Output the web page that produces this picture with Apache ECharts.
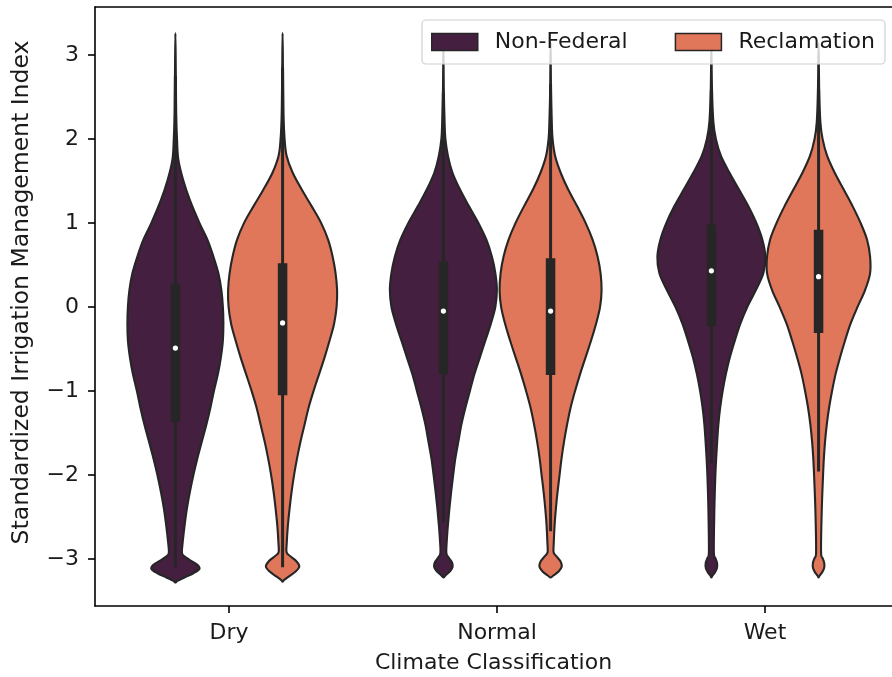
<!DOCTYPE html>
<html>
<head>
<meta charset="utf-8">
<script src="https://cdn.jsdelivr.net/npm/echarts@6/dist/echarts.min.js"></script>
<style>
html,body{margin:0;padding:0;background:#fff;}
#chart{width:892px;height:677px;}
</style>
</head>
<body>
<div id="chart"></div>
<script>
// ---- data ----
const categories = ['Dry', 'Normal', 'Wet'];
const categoryPositions = [0, 1, 2];
const seriesNames = ['Non-Federal', 'Reclamation'];
const yTicks = [-3, -2, -1, 0, 1, 2, 3];

// violin profiles: [value, relative density]
const dryNonFederal = [[3.26,0],[2.8,0.4],[2.3,0.8],[2.0,1.6],[1.75,3],[1.5,8],[1.27,14.5],[1.0,24],[0.8,32],[0.6,38],[0.4,43],[0.2,46],[0.0,47.5],[-0.2,48],[-0.4,47.5],[-0.6,45.5],[-0.8,42.5],[-1.0,38.5],[-1.2,35],[-1.4,31],[-1.6,26.5],[-1.8,22],[-2.0,18],[-2.2,14.5],[-2.4,11.5],[-2.6,9.2],[-2.8,7.3],[-2.92,6.5],[-2.96,8],[-3.01,14],[-3.07,22],[-3.12,24],[-3.17,18],[-3.22,9],[-3.26,2],[-3.28,0]];
const dryReclamation = [[3.26,0],[2.8,0.4],[2.3,0.9],[2.0,2],[1.8,4],[1.6,10],[1.4,19],[1.2,29],[1.0,38.5],[0.8,45.5],[0.6,50],[0.4,53],[0.2,54.5],[0.0,54],[-0.2,51.5],[-0.4,47],[-0.6,42],[-0.8,36.5],[-1.0,31],[-1.2,26],[-1.4,22],[-1.6,18],[-1.8,14.5],[-2.0,11.5],[-2.2,9],[-2.4,7],[-2.6,5.3],[-2.8,4.2],[-2.92,4],[-2.97,8],[-3.03,14],[-3.09,16.7],[-3.15,13],[-3.21,6],[-3.25,1.5],[-3.27,0]];
const normalNonFederal = [[3.12,0],[2.6,0.4],[2.2,1.2],[2.0,2],[1.8,4.5],[1.6,9],[1.4,16.5],[1.2,25.5],[1.0,35],[0.8,43],[0.6,48.5],[0.4,52],[0.2,53.5],[0.0,52],[-0.2,47.5],[-0.4,42],[-0.6,36.5],[-0.8,31],[-1.0,26.5],[-1.2,22],[-1.4,18],[-1.6,15],[-1.8,12],[-2.0,9.8],[-2.2,7.8],[-2.4,6],[-2.6,4.5],[-2.8,3.3],[-2.93,3],[-2.98,5],[-3.04,8.5],[-3.09,9.3],[-3.14,7],[-3.19,2.5],[-3.22,0]];
const normalReclamation = [[3.14,0],[2.6,0.4],[2.2,1.2],[2.0,2],[1.8,4.5],[1.6,10],[1.4,17.5],[1.2,26.5],[1.0,35],[0.8,42],[0.6,47],[0.4,50],[0.2,51],[0.0,49.5],[-0.2,45.5],[-0.4,40.5],[-0.6,35],[-0.8,29.5],[-1.0,24.5],[-1.2,20],[-1.4,16.5],[-1.6,13.5],[-1.8,11],[-2.0,9],[-2.2,7],[-2.4,5.3],[-2.6,4],[-2.8,3.2],[-2.92,3],[-2.97,6],[-3.03,10],[-3.09,11.2],[-3.15,8],[-3.2,2.5],[-3.22,0]];
const wetNonFederal = [[3.12,0],[2.6,0.6],[2.2,2],[2.0,4.5],[1.8,9.5],[1.6,18],[1.4,27.5],[1.2,37],[1.0,45],[0.8,51],[0.6,54],[0.4,52],[0.2,44.5],[0.0,36],[-0.2,29],[-0.4,23.5],[-0.6,18.5],[-0.8,14.5],[-1.0,11.3],[-1.2,8.8],[-1.4,7],[-1.6,5.8],[-1.8,4.8],[-2.0,4],[-2.3,3.2],[-2.6,2.7],[-2.93,2.5],[-2.99,4],[-3.05,5.7],[-3.11,5.5],[-3.16,3.5],[-3.2,1],[-3.22,0]];
const wetReclamation = [[3.14,0],[2.6,0.6],[2.2,1.8],[2.0,4],[1.8,8.5],[1.6,16],[1.4,25],[1.2,34],[1.0,42],[0.8,48.5],[0.6,51.5],[0.4,51.5],[0.2,46.5],[0.0,39],[-0.2,32],[-0.4,26.5],[-0.6,21.5],[-0.8,17],[-1.0,13.5],[-1.2,10.5],[-1.4,8.2],[-1.6,6.5],[-1.8,5.3],[-2.0,4.5],[-2.3,3.5],[-2.6,2.8],[-2.93,2.5],[-2.99,4],[-3.05,5.7],[-3.11,5.5],[-3.16,3.5],[-3.2,1],[-3.22,0]];

// box statistics per category: [whiskerLow, q1, median, q3, whiskerHigh]
const nonFederalStats = [[-3.1,-1.37,-0.49,0.28,2.75],[-2.57,-0.80,-0.05,0.54,2.55],[-1.86,-0.23,0.43,0.98,2.58]];
const reclamationStats = [[-3.1,-1.05,-0.19,0.52,2.85],[-2.67,-0.81,-0.05,0.58,2.65],[-1.96,-0.31,0.36,0.92,2.58]];

const nonFederalProfiles = [dryNonFederal, normalNonFederal, wetNonFederal];
const reclamationProfiles = [dryReclamation, normalReclamation, wetReclamation];

// ---- styles ----
const colors = ['#451f40', '#e0765a'];
const lineColor = '#262626';
const textColor = '#1a1a1a';
const densityToBand = 1 / 268;   // relative density -> fraction of a category band
const FONT = 'DejaVu Sans';
const FS = 22;

// closed Catmull-Rom outline through the pixel points (rendering only)
function smoothClosedPath(p) {
  const n = p.length;
  let d = 'M' + p[0][0].toFixed(2) + ' ' + p[0][1].toFixed(2);
  for (let i = 0; i < n; i++) {
    const p0 = p[(i - 1 + n) % n], p1 = p[i], p2 = p[(i + 1) % n], p3 = p[(i + 2) % n];
    const c1x = p1[0] + (p2[0] - p0[0]) / 6, c1y = p1[1] + (p2[1] - p0[1]) / 6;
    const c2x = p2[0] - (p3[0] - p1[0]) / 6, c2y = p2[1] - (p3[1] - p1[1]) / 6;
    d += 'C' + c1x.toFixed(2) + ' ' + c1y.toFixed(2) + ' ' + c2x.toFixed(2) + ' ' + c2y.toFixed(2) + ' ' + p2[0].toFixed(2) + ' ' + p2[1].toFixed(2);
  }
  return d + 'Z';
}

function makeRenderer(profiles, stats, offsetFrac, color) {
  return function (params, api) {
    const ci = api.value(0);
    const band = api.size([1, 0])[0];
    const cx = api.coord([ci, 0])[0] + offsetFrac * band;
    const prof = profiles[ci];
    const right = [], left = [];
    for (let i = 0; i < prof.length; i++) {
      const y = api.coord([ci, prof[i][0]])[1];
      const hw = prof[i][1] * densityToBand * band;
      right.push([cx + hw, y]);
      if (i > 0 && i < prof.length - 1) left.unshift([cx - hw, y]);
    }
    const pts = right.concat(left);
    const st = stats[ci];
    const yLow = api.coord([ci, st[0]])[1];
    const yQ1 = api.coord([ci, st[1]])[1];
    const yMed = api.coord([ci, st[2]])[1];
    const yQ3 = api.coord([ci, st[3]])[1];
    const yHigh = api.coord([ci, st[4]])[1];
    const boxW = 9.5;
    return {
      type: 'group',
      children: [
        { type: 'path', shape: { pathData: smoothClosedPath(pts) },
          style: { fill: color, stroke: lineColor, lineWidth: 2.1, lineJoin: 'round' } },
        { type: 'line', shape: { x1: cx, y1: yLow, x2: cx, y2: yHigh },
          style: { stroke: lineColor, lineWidth: 3 } },
        { type: 'rect', shape: { x: cx - boxW / 2, y: yQ3, width: boxW, height: yQ1 - yQ3 },
          style: { fill: lineColor } },
        { type: 'circle', shape: { cx: cx, cy: yMed, r: 2.6 },
          style: { fill: '#ffffff' } }
      ]
    };
  };
}

const xMin = -0.5, xMax = 2.474;   // right spine lies just outside the picture

const chart = echarts.init(document.getElementById('chart'), null, { renderer: 'canvas' });
chart.setOption({
  animation: false,
  backgroundColor: '#ffffff',
  textStyle: { fontFamily: FONT },
  grid: { left: 95, right: 0, top: 7, bottom: 71, containLabel: false, outerBoundsMode: 'none' },
  legend: {
    data: seriesNames,
    left: 422, top: 20,
    orient: 'horizontal',
    icon: 'rect',
    itemWidth: 46, itemHeight: 17, itemGap: 47,
    padding: [11, 10, 11, 9],
    backgroundColor: 'rgba(255,255,255,0.8)',
    borderColor: '#d0d0d0', borderWidth: 1.2, borderRadius: 4,
    itemStyle: { borderColor: lineColor, borderWidth: 1.5 },
    textStyle: { fontFamily: FONT, fontSize: FS, color: textColor, padding: [0, 0, 0, 12] }
  },
  xAxis: [{
    type: 'value',
    min: xMin, max: xMax,
    position: 'bottom',
    name: 'Climate Classification',
    nameLocation: 'middle',
    nameGap: 46,
    nameTextStyle: { fontFamily: FONT, fontSize: FS, color: textColor },
    axisLine: { onZero: false, lineStyle: { color: '#000', width: 1.6 } },
    axisTick: { customValues: categoryPositions, length: 7, lineStyle: { color: '#000', width: 1.6 } },
    axisLabel: { customValues: categoryPositions, margin: 16, fontFamily: FONT, fontSize: FS, color: textColor,
      formatter: v => categories[Math.round(v)] },
    splitLine: { show: false }
  }, {
    type: 'value',
    min: xMin, max: xMax,
    position: 'top',
    axisLine: { show: true, onZero: false, lineStyle: { color: '#000', width: 1.6 } },
    axisTick: { show: false },
    axisLabel: { show: false },
    splitLine: { show: false }
  }],
  yAxis: {
    type: 'value',
    min: -3.56, max: 3.57,
    name: 'Standardized Irrigation Management Index',
    nameLocation: 'middle',
    nameGap: 61,
    nameTextStyle: { fontFamily: FONT, fontSize: 23.5, color: textColor, padding: [0, 0, 0, 28] },
    axisLine: { show: true, onZero: false, lineStyle: { color: '#000', width: 1.6 } },
    axisTick: { show: true, length: 7, customValues: yTicks, lineStyle: { color: '#000', width: 1.6 } },
    axisLabel: { customValues: yTicks, margin: 16, fontFamily: FONT, fontSize: FS, color: textColor,
      formatter: v => (v < 0 ? '\u2212' + Math.abs(v) : String(v)) },
    splitLine: { show: false }
  },
  series: [
    { name: seriesNames[0], type: 'custom', color: colors[0],
      itemStyle: { color: colors[0] },
      renderItem: makeRenderer(nonFederalProfiles, nonFederalStats, -0.2, colors[0]),
      data: categoryPositions.map(i => [i]), encode: { x: 0 }, z: 2 },
    { name: seriesNames[1], type: 'custom', color: colors[1],
      itemStyle: { color: colors[1] },
      renderItem: makeRenderer(reclamationProfiles, reclamationStats, 0.2, colors[1]),
      data: categoryPositions.map(i => [i]), encode: { x: 0 }, z: 2 }
  ]
});
</script>
</body>
</html>
